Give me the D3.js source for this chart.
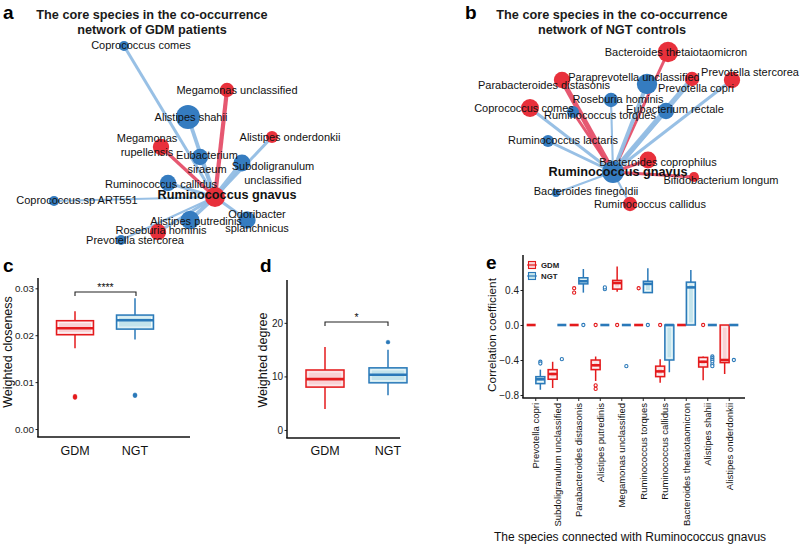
<!DOCTYPE html>
<html lang="en">
<head>
<meta charset="UTF-8" />
<title>Core species of the co-occurrence networks</title>
<script src="https://d3js.org/d3.v7.min.js"></script>
<style>
  body { margin: 0; background: #fff; }
  svg { display: block; font-family: "Liberation Sans", Arial, sans-serif; }
</style>
</head>
<body>
<div id="chart"></div>
<script>
// ---- network a (GDM) : layout coordinates relative to the hub ----
const netANames = ["Coprococcus comes", "Megamonas unclassified", "Alistipes shahii", "Alistipes onderdonkii",
  "Megamonas|rupellensis", "Eubacterium|siraeum", "Subdoligranulum|unclassified", "Ruminococcus callidus",
  "Coprococcus.sp ART551", "Alistipes putredinis", "Odoribacter|splanchnicus", "Roseburia hominis", "Prevotella stercorea"]
const netAX = [-91, 12, -27, 57, -54, -15, 27, -47, -161, -25, 32, -57, -94]
const netAY = [-151, -107, -80, -60, -50, -40, -34, -14, 4, 23, 23, 35, 43]
const netAWeight = [0.42, 0.6, 1, 0.5, 0.68, 0.68, 0.7, 0.68, 0.42, 0.78, 0.72, 0.68, 0.42]
const netAGroup = ["NGT", "GDM", "NGT", "GDM", "GDM", "NGT", "NGT", "NGT", "NGT", "NGT", "NGT", "GDM", "NGT"]
const netAEdge = [0.5, 0.7, 0.65, 0.5, 0.55, 0.5, 0.85, 0.5, 0.35, 0.65, 0.5, 0.5, 0.35]
const netASign = [1, -1, 1, 1, -1, 1, 1, 1, 1, 1, 1, 1, 1]
const netALabelX = [-74, 22, -24, 75, -68, -8, 58, -54, -138, -19, 42, -54, -80]
const netALabelY = [-152, -107, -80, -60, -52, -35, -24, -13, 3, 24, 24, 33, 43]

// ---- network b (NGT) ----
const netBNames = ["Bacteroides thetaiotaomicron", "Paraprevotella unclassified", "Parabacteroides distasonis",
  "Prevotella stercorea", "Prevotella copri", "Roseburia hominis", "Coprococcus comes", "Ruminococcus torques",
  "Eubacterium rectale", "Ruminococcus lactaris", "Bacteroides coprophilus", "Bifidobacterium longum",
  "Bacteroides finegoldii", "Ruminococcus callidus"]
const netBX = [55, 34, -51, 119, 79, -2, -83, -40, 53, -65, 35, 81, -57, 17]
const netBY = [-120, -88, -92, -92, -93, -72, -64, -60, -61, -31, -12, 5, 21, 32]
const netBWeight = [0.85, 0.85, 0.68, 0.68, 0.6, 0.6, 0.75, 0.5, 0.68, 0.5, 0.7, 0.42, 0.33, 0.6]
const netBGroup = ["GDM", "NGT", "GDM", "GDM", "GDM", "NGT", "GDM", "NGT", "NGT", "NGT", "GDM", "GDM", "NGT", "GDM"]
const netBEdge = [0.5, 0.65, 0.85, 0.5, 0.85, 0.35, 0.5, 0.5, 0.65, 0.5, 0.5, 0.5, 0.35, 0.35]
const netBSign = [-1, 1, -1, 1, 1, 1, 1, -1, 1, 1, -1, -1, 1, 1]
const netBLabelX = [63, 21, -69, 137, 83, 5, -89, -13, 62, -50, 45, 108, -27, 37]
const netBLabelY = [-120, -95, -87, -100, -84, -73, -64, -57, -63, -32, -10, 8, 19, 32]

// ---- panel c / d ----
const groups = ["GDM", "NGT"]
const closenessLo = [0.0172, 0.0191]
const closenessQ1 = [0.0201, 0.0213]
const closenessMed = [0.0215, 0.0232]
const closenessQ3 = [0.0231, 0.0243]
const closenessHi = [0.0251, 0.0279]
const closenessOut = [[0.0070, 0.0067], [0.0073, 0.0071]]

const degreeLo = [3.9, 6.5]
const degreeQ1 = [8.0, 8.8]
const degreeMed = [9.5, 10.3]
const degreeQ3 = [11.2, 11.6]
const degreeHi = [15.5, 15.0]
const degreeOut = [[], [16.4]]

// ---- panel e ----
const species = ["Prevotella copri", "Subdoligranulum unclassified", "Parabacteroides distasonis",
  "Alistipes putredinis", "Megamonas unclassified", "Ruminococcus torques", "Ruminococcus callidus",
  "Bacteroides thetaiotaomicron", "Alistipes shahii", "Alistipes onderdonkii"]
const gdmLo = [0, -0.72, 0, -0.64, 0.38, 0, -0.66, 0, -0.63, -0.56]
const gdmQ1 = [0, -0.62, 0, -0.51, 0.41, 0, -0.59, 0, -0.48, -0.43]
const gdmMed = [0, -0.56, 0, -0.46, 0.48, 0, -0.53, 0, -0.42, -0.40]
const gdmQ3 = [0, -0.51, 0, -0.40, 0.51, 0, -0.47, 0, -0.37, 0]
const gdmHi = [0, -0.42, 0, -0.36, 0.67, 0, -0.39, 0, -0.36, 0]
const gdmOut = [[], [], [0.42, 0.37], [-0.69, -0.73, 0], [0], [0.42], [0], [], [0], []]
const ngtLo = [-0.74, 0, 0.37, 0, 0, 0.37, -0.54, 0, 0, 0]
const ngtQ1 = [-0.67, 0, 0.47, 0, 0, 0.37, -0.40, 0, 0, 0]
const ngtMed = [-0.62, 0, 0.50, 0, 0, 0.47, 0, 0.43, 0, 0]
const ngtQ3 = [-0.59, 0, 0.54, 0, 0, 0.50, 0, 0.49, 0, 0]
const ngtHi = [-0.51, 0, 0.64, 0, 0, 0.65, 0, 0.63, 0, 0]
const ngtOut = [[-0.42, -0.44], [-0.39], [0], [0.41, 0.43], [-0.47], [0], [], [], [-0.36, -0.38, -0.40, -0.42, -0.45, -0.47], [-0.40]]

const col = {
  GDM: { stroke: "#e41a1c", fill: "#f9d2d5", node: "#e8303b", edge: "#e5506a" },
  NGT: { stroke: "#2a79b9", fill: "#c3e4ec", node: "#357cc0", edge: "#93bde4" }
}

const svg = d3.select("#chart").append("svg").attr("width", 800).attr("height", 544)

function letter(x, y, t) {
  svg.append("text").attr("x", x).attr("y", y).attr("font-size", 19).attr("font-weight", "bold").text(t)
}

function title(cx, lines) {
  lines.forEach((l, i) =>
    svg.append("text").attr("x", cx).attr("y", 19 + i * 15).attr("text-anchor", "middle")
      .attr("font-size", 12.7).attr("font-weight", "bold").attr("fill", "#1a1a1a").text(l))
}

function drawNetwork(cx, cy, n, hubGroup, hubR, hubLabel) {
  const x = d3.scaleLinear().domain([-200, 200]).range([cx - 200, cx + 200])
  const y = d3.scaleLinear().domain([-200, 200]).range([cy - 200, cy + 200])
  const r = d3.scaleLinear().domain([0, 1]).range([0, 12])
  const w = d3.scaleLinear().domain([0, 1]).range([0, 6])
  const g = svg.append("g")
  const idx = d3.range(n.names.length)

  g.selectAll(".edge").data(idx).join("line").attr("class", "edge")
    .attr("x1", x(0)).attr("y1", y(0))
    .attr("x2", i => x(n.x[i])).attr("y2", i => y(n.y[i]))
    .attr("stroke", i => n.sign[i] > 0 ? col.NGT.edge : col.GDM.edge)
    .attr("stroke-width", i => w(n.edge[i]))
    .attr("opacity", 0.95)

  g.selectAll(".node").data(idx).join("circle").attr("class", "node")
    .attr("cx", i => x(n.x[i])).attr("cy", i => y(n.y[i]))
    .attr("r", i => r(n.weight[i]))
    .attr("fill", i => col[n.group[i]].node)

  g.append("circle").attr("cx", x(0)).attr("cy", y(0)).attr("r", hubR).attr("fill", col[hubGroup].node)

  idx.forEach(i => {
    const parts = n.names[i].split("|")
    const t = g.append("text").attr("text-anchor", "middle").attr("font-size", 11).attr("fill", "#111")
    parts.forEach((p, k) => {
      t.append("tspan").attr("x", x(n.lx[i]))
        .attr("y", y(n.ly[i]) + 4 + (k - (parts.length - 1) / 2) * 14).text(p)
    })
  })

  g.append("text").attr("x", x(hubLabel[0])).attr("y", y(hubLabel[1]) + 4.5)
    .attr("text-anchor", "middle").attr("font-size", 12.7).attr("font-weight", "bold")
    .attr("fill", "#111").text("Ruminococcus gnavus")
}

letter(3, 19, "a")
title(152, ["The core species in the co-occurrence", "network of GDM patients"])
drawNetwork(215, 197, { names: netANames, x: netAX, y: netAY, weight: netAWeight, group: netAGroup,
  edge: netAEdge, sign: netASign, lx: netALabelX, ly: netALabelY }, "GDM", 10, [12, -3])

letter(465, 19, "b")
title(612, ["The core species in the co-occurrence", "network of NGT controls"])
drawNetwork(613, 172, { names: netBNames, x: netBX, y: netBY, weight: netBWeight, group: netBGroup,
  edge: netBEdge, sign: netBSign, lx: netBLabelX, ly: netBLabelY }, "NGT", 11, [5, -1])

// ---- box drawing ----
function drawBox(g, cx, bw, st, y, c, openOutliers) {
  const [lo, q1, med, q3, hi, out] = st
  g.append("line").attr("x1", cx).attr("x2", cx).attr("y1", y(hi)).attr("y2", y(lo))
    .attr("stroke", c.stroke).attr("stroke-width", 1.5)
  const top = y(q3), h = y(q1) - y(q3)
  if (h > 0) {
    g.append("rect").attr("x", cx - bw / 2).attr("y", top).attr("width", bw).attr("height", h)
      .attr("fill", c.fill).attr("stroke", c.stroke).attr("stroke-width", 1.5)
    if (h > 6 && bw > 6)
      g.append("rect").attr("x", cx - bw / 2 + 2).attr("y", top + 2).attr("width", bw - 4).attr("height", h - 4)
        .attr("fill", "none").attr("stroke", "#fff").attr("stroke-width", 0.9).attr("opacity", 0.85)
  }
  g.append("line").attr("x1", cx - bw / 2).attr("x2", cx + bw / 2).attr("y1", y(med)).attr("y2", y(med))
    .attr("stroke", c.stroke).attr("stroke-width", 2.6)
  g.selectAll(null).data(out).join("circle")
    .attr("cx", cx).attr("cy", v => y(v)).attr("r", openOutliers ? 1.6 : 1.9)
    .attr("fill", openOutliers ? "#fff" : c.stroke).attr("stroke", c.stroke)
    .attr("stroke-width", openOutliers ? 1.1 : 0.5)
}

function yAxis(g, x0, y, ticks, fmt, fs) {
  const ax = g.append("g").attr("transform", `translate(${x0},0)`)
    .call(d3.axisLeft(y).tickValues(ticks).tickFormat(d3.format(fmt)).tickSize(2.5).tickPadding(1.5))
  ax.select(".domain").remove()
  ax.selectAll("text").attr("font-size", fs).attr("fill", "#222").style("font-family", "inherit")
  ax.selectAll("line").attr("stroke", "#222")
  const [a, b] = y.range()
  g.append("line").attr("x1", x0).attr("x2", x0).attr("y1", a).attr("y2", b).attr("stroke", "#111").attr("stroke-width", 1.5)
}

function xLine(g, x0, x1, yy) {
  g.append("line").attr("x1", x0 - 0.75).attr("x2", x1).attr("y1", yy).attr("y2", yy).attr("stroke", "#111").attr("stroke-width", 1.5)
}

function yTitle(g, x, cy, t, fs) {
  g.append("text").attr("transform", `translate(${x},${cy}) rotate(-90)`).attr("text-anchor", "middle")
    .attr("font-size", fs).attr("fill", "#111").text(t)
}

function bracket(g, x1, x2, yy, label) {
  g.append("path").attr("d", `M${x1},${yy + 4}V${yy}H${x2}V${yy + 4}`).attr("fill", "none")
    .attr("stroke", "#222").attr("stroke-width", 1.1)
  g.append("text").attr("x", (x1 + x2) / 2).attr("y", yy - 1).attr("text-anchor", "middle")
    .attr("font-size", 10.5).attr("fill", "#111").text(label)
}

// ---- panel c ----
letter(3, 272, "c")
const gc = svg.append("g")
const yc = d3.scaleLinear().domain([-0.0017, 0.0322]).range([437, 278])
const xc = d3.scalePoint().domain(groups).range([75, 135])
yAxis(gc, 38, yc, [0, 0.01, 0.02, 0.03], ".2f", 9.8)
xLine(gc, 38, 190, 437)
groups.forEach((gr, i) => drawBox(gc, xc(gr), 37,
  [closenessLo[i], closenessQ1[i], closenessMed[i], closenessQ3[i], closenessHi[i], closenessOut[i]], yc, col[gr], false))
gc.selectAll(".xl").data(groups).join("text").attr("x", d => xc(d)).attr("y", 455)
  .attr("text-anchor", "middle").attr("font-size", 12.5).attr("fill", "#111").text(d => d)
yTitle(gc, 12, 352, "Weighted closeness", 12.5)
bracket(gc, xc("GDM"), xc("NGT") + 1, 292, "****")

// ---- panel d ----
letter(260, 272, "d")
const gd = svg.append("g")
const yd = d3.scaleLinear().domain([-1.5, 28]).range([438, 280])
const xd = d3.scalePoint().domain(groups).range([325, 388])
yAxis(gd, 287, yd, [0, 10, 20], "d", 10)
xLine(gd, 287, 400, 438)
groups.forEach((gr, i) => drawBox(gd, xd(gr), 38,
  [degreeLo[i], degreeQ1[i], degreeMed[i], degreeQ3[i], degreeHi[i], degreeOut[i]], yd, col[gr], false))
gd.selectAll(".xl").data(groups).join("text").attr("x", d => xd(d)).attr("y", 455)
  .attr("text-anchor", "middle").attr("font-size", 12.5).attr("fill", "#111").text(d => d)
yTitle(gd, 267, 360, "Weighted degree", 12.5)
bracket(gd, xd("GDM"), xd("NGT"), 322, "*")

// ---- panel e ----
letter(486, 269, "e")
const ge = svg.append("g")
const ye = d3.scaleLinear().domain([-0.834, 0.8]).range([398, 255])
const xe = d3.scaleBand().domain(species).range([525, 740])
const off = 4.6
yAxis(ge, 523, ye, [-0.8, -0.4, 0, 0.4], ".1f", 10)
xLine(ge, 523, 745, 398)
species.forEach((s, i) => {
  const cx = xe(s) + xe.bandwidth() / 2
  drawBox(ge, cx - off, 9, [gdmLo[i], gdmQ1[i], gdmMed[i], gdmQ3[i], gdmHi[i], gdmOut[i]], ye, col.GDM, true)
  drawBox(ge, cx + off, 9, [ngtLo[i], ngtQ1[i], ngtMed[i], ngtQ3[i], ngtHi[i], ngtOut[i]], ye, col.NGT, true)
  ge.append("line").attr("x1", cx).attr("x2", cx).attr("y1", 398).attr("y2", 401).attr("stroke", "#222")
  ge.append("text").attr("transform", `translate(${cx + 3.3},${403}) rotate(-90)`).attr("text-anchor", "end")
    .attr("font-size", 9.5).attr("fill", "#111").text(s)
})
yTitle(ge, 496, 335, "Correlation coefficient", 11.8)
ge.append("text").attr("x", 630).attr("y", 541).attr("text-anchor", "middle").attr("font-size", 12)
  .attr("fill", "#111").text("The species connected with Ruminococcus gnavus")

// legend
groups.forEach((gr, i) => {
  const ly = 265 + i * 11
  const c = col[gr]
  ge.append("line").attr("x1", 527).attr("x2", 537).attr("y1", ly).attr("y2", ly).attr("stroke", c.stroke).attr("stroke-width", 1)
  ge.append("rect").attr("x", 528.5).attr("y", ly - 3.5).attr("width", 7).attr("height", 7)
    .attr("fill", c.fill).attr("stroke", c.stroke).attr("stroke-width", 1.1)
  ge.append("line").attr("x1", 528.5).attr("x2", 535.5).attr("y1", ly).attr("y2", ly).attr("stroke", c.stroke).attr("stroke-width", 1.2)
  ge.append("text").attr("x", 541).attr("y", ly + 3).attr("font-size", 7.8).attr("font-weight", "bold")
    .attr("fill", "#222").text(gr)
})
</script>
</body>
</html>
